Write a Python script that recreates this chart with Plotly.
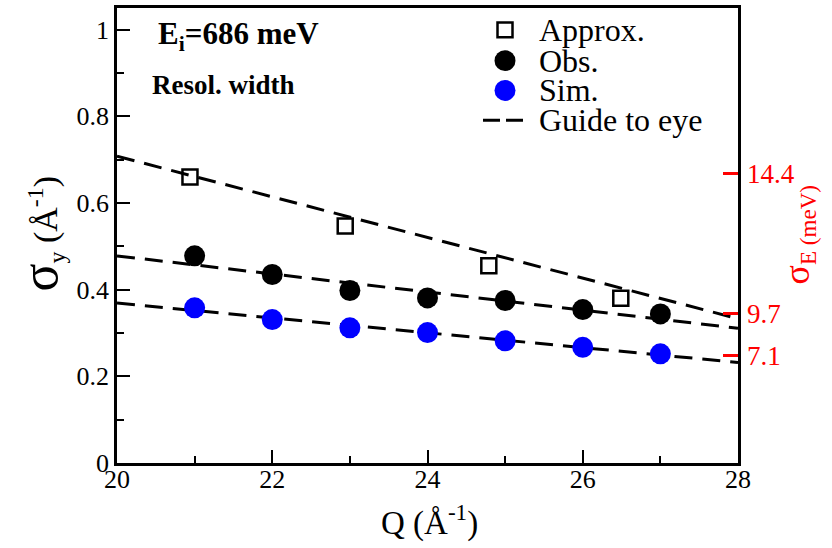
import plotly.graph_objects as go

# Data
approx_q = [20.94, 22.94, 24.79, 26.49]
approx_s = [0.660, 0.547, 0.455, 0.380]

obs_q = [21, 22, 23, 24, 25, 26, 27]
obs_s = [0.478, 0.435, 0.398, 0.381, 0.375, 0.354, 0.344]

sim_q = [21, 22, 23, 24, 25, 26, 27]
sim_s = [0.358, 0.331, 0.312, 0.301, 0.282, 0.267, 0.252]

guide_q = [20, 28]
guide_approx = [0.708, 0.333]
guide_obs = [0.478, 0.311]
guide_sim = [0.369, 0.232]

right_tickvals = [0.667, 0.345, 0.248]
right_ticktext = ["14.4", "9.7", "7.1"]

legend_names = ["Approx.", "Obs.", "Sim.", "Guide to eye"]

FONT = "Liberation Serif"
DASH = "18px,10px"

fig = go.Figure()

for gy in (guide_approx, guide_obs, guide_sim):
    fig.add_trace(go.Scatter(x=guide_q, y=gy, mode="lines",
                             line=dict(color="black", width=3, dash=DASH), showlegend=False))

fig.add_trace(go.Scatter(x=approx_q, y=approx_s, mode="markers", name=legend_names[0],
                         marker=dict(symbol="square-open", size=15, color="black",
                                     line=dict(width=2.5, color="black")), showlegend=False))
fig.add_trace(go.Scatter(x=obs_q, y=obs_s, mode="markers", name=legend_names[1],
                         marker=dict(symbol="circle", size=21, color="black"), showlegend=False))
fig.add_trace(go.Scatter(x=sim_q, y=sim_s, mode="markers", name=legend_names[2],
                         marker=dict(symbol="circle", size=21, color="#0000ff"), showlegend=False))
# invisible trace to carry right axis
fig.add_trace(go.Scatter(x=[20], y=[0], mode="markers", yaxis="y2",
                         marker=dict(opacity=0), showlegend=False, hoverinfo="skip"))

fig.update_layout(
    width=832, height=548,
    margin=dict(l=117, r=94, t=5, b=85),
    paper_bgcolor="white", plot_bgcolor="white",
    font=dict(family=FONT, size=26, color="black"),
    showlegend=False,
    xaxis=dict(range=[20, 28], showline=True, linewidth=2.5, linecolor="black",
               mirror=True, ticks="inside", ticklen=13, tickwidth=1.5, tickcolor="black",
               dtick=2, tick0=20, showgrid=False, zeroline=False,
               tickfont=dict(size=26, family=FONT), ticklabelstandoff=-9,
               minor=dict(dtick=1, ticks="inside", ticklen=7, tickwidth=1.5, tickcolor="black")),
    yaxis=dict(range=[0, 1.05], showline=True, linewidth=2.5, linecolor="black",
               mirror=True, ticks="inside", ticklen=13, tickwidth=1.5, tickcolor="black",
               tickvals=[0, 0.2, 0.4, 0.6, 0.8, 1.0], ticktext=["0", "0.2", "0.4", "0.6", "0.8", "1"],
               showgrid=False, zeroline=False, tickfont=dict(size=26, family=FONT),
               minor=dict(tickvals=[0.1, 0.3, 0.5, 0.7, 0.9], ticks="inside", ticklen=7,
                          tickwidth=1.5, tickcolor="black")),
    yaxis2=dict(range=[0, 1.05], overlaying="y", side="right", showline=False,
                ticks="inside", ticklen=15, tickwidth=3, tickcolor="#ff0000",
                tickvals=right_tickvals, ticktext=right_ticktext, showgrid=False,
                zeroline=False, ticklabelstandoff=8,
                tickfont=dict(size=27, family=FONT, color="#ff0000")),
)

W, H = 621, 458
def px(xp): return (xp - 117) / W
def py(yp): return (463 - yp) / H

# axis titles
fig.add_annotation(x=px(40), y=py(233), xref="paper", yref="paper", showarrow=False,
                   textangle=-90, xanchor="center", yanchor="middle",
                   text="<span style='font-size:52px'>σ</span><sub>y</sub> (Å<sup>-1</sup>)",
                   font=dict(size=34, family=FONT, color="black"))
fig.add_annotation(x=px(799), y=py(233), xref="paper", yref="paper", showarrow=False,
                   textangle=-90, xanchor="center", yanchor="middle",
                   text="<span style='font-size:36px'>σ</span><sub>E (meV)</sub>",
                   font=dict(size=33, family=FONT, color="#ff0000"))
fig.add_annotation(x=px(429), y=py(521), xref="paper", yref="paper", showarrow=False,
                   xanchor="center", yanchor="middle",
                   text="Q (Å<sup>-1</sup>)",
                   font=dict(size=33, family=FONT, color="black"))

# in-plot labels
fig.add_annotation(x=px(156), y=py(33), xref="paper", yref="paper", showarrow=False,
                   xanchor="left", yanchor="middle",
                   text="<b>E<sub>i</sub>=686 meV</b>",
                   font=dict(size=31, family=FONT, color="black"))
fig.add_annotation(x=px(150), y=py(83), xref="paper", yref="paper", showarrow=False,
                   xanchor="left", yanchor="middle",
                   text="<b>Resol. width</b>",
                   font=dict(size=27, family=FONT, color="black"))

# manual legend
sym_x = 505
rows_y = [27, 58, 88, 118]
h = 7.5
fig.add_shape(type="rect", xref="paper", yref="paper",
              x0=px(sym_x - h), x1=px(sym_x + h), y0=py(rows_y[0] + h), y1=py(rows_y[0] - h),
              line=dict(color="black", width=2.5), fillcolor="rgba(0,0,0,0)")
r = 10.5
fig.add_shape(type="circle", xref="paper", yref="paper",
              x0=px(sym_x - r), x1=px(sym_x + r), y0=py(rows_y[1] + r), y1=py(rows_y[1] - r),
              line=dict(width=0), fillcolor="black")
fig.add_shape(type="circle", xref="paper", yref="paper",
              x0=px(sym_x - r), x1=px(sym_x + r), y0=py(rows_y[2] + r), y1=py(rows_y[2] - r),
              line=dict(width=0), fillcolor="#0000ff")
fig.add_shape(type="line", xref="paper", yref="paper",
              x0=px(483), x1=px(523), y0=py(rows_y[3]), y1=py(rows_y[3]),
              line=dict(color="black", width=3, dash="17px,6px"))
for name, ry in zip(legend_names, rows_y):
    fig.add_annotation(x=px(537), y=py(ry), xref="paper", yref="paper", showarrow=False,
                       xanchor="left", yanchor="middle", text=name,
                       font=dict(size=32, family=FONT, color="black"))

fig.write_html("out.html")
